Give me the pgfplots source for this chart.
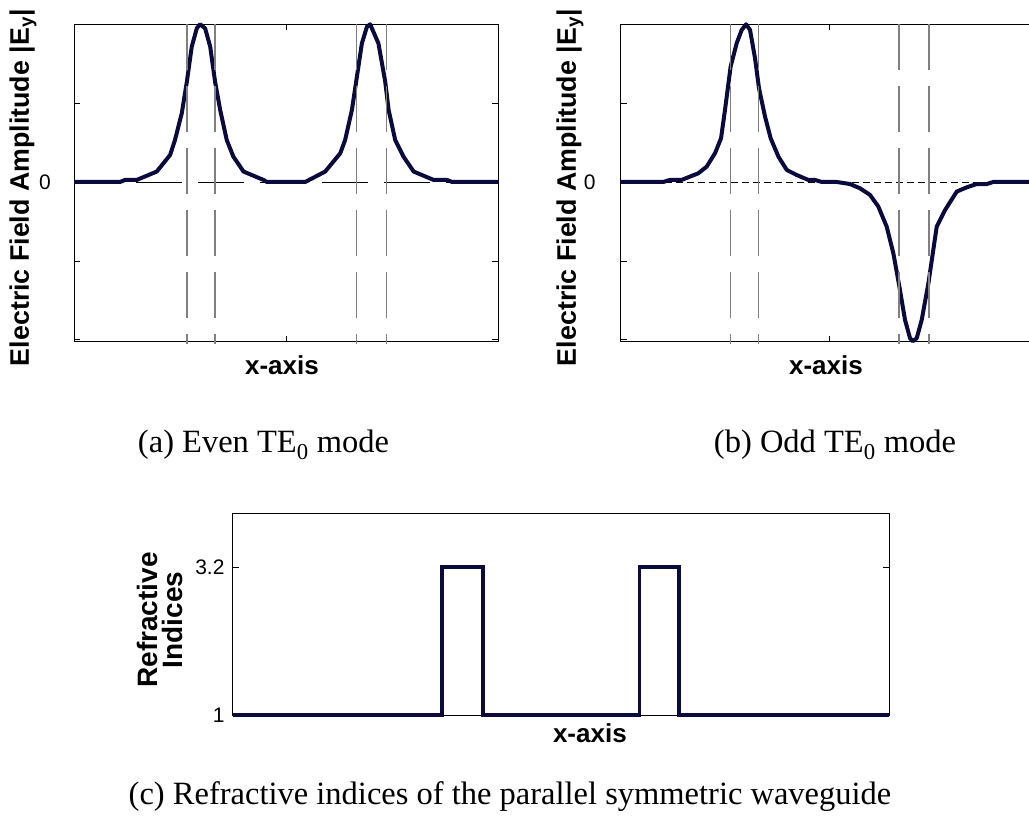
\documentclass[border=0pt]{standalone}
\usepackage{fontspec}
\setmainfont{Liberation Serif}
\setsansfont{Liberation Sans}
\usepackage{pgfplots}
\pgfplotsset{compat=1.18}

\definecolor{navyline}{RGB}{10,10,60}
\definecolor{guidegray}{RGB}{128,128,128}

\pgfplotsset{
  panel/.style={
    scale only axis, clip=false,
    axis line style={line width=0.8pt},
    major tick style={black, line width=0.6pt},
    major tick length=6pt,
    tick label style={font=\sffamily\fontsize{21}{25}\selectfont, inner sep=0pt},
    label style={font=\sffamily\bfseries\fontsize{26}{29}\selectfont},
    xlabel={x-axis},
  },
  mode/.style={
    panel,
    height=317.4pt,
    xmin=-1, xmax=1, ymin=-1.013, ymax=1,
    xtick={0}, xticklabels={},
    ytick={-1,-0.5,0,0.5,1}, yticklabels={,,0,,},
    ylabel={Electric Field Amplitude |E\textsubscript{y}|},
  },
  wave/.style={navyline, line width=4pt, line join=round},
  guide/.style={guidegray, line width=1.2pt, dash pattern=on 46pt off 16pt},
}

\begin{document}
\begin{tikzpicture}[x=1pt, y=1pt]
\useasboundingbox (0,0) rectangle (1029,818);

% (a) even mode
\begin{axis}[mode, at={(74pt,476.3pt)}, anchor=south west, width=424.3pt,
  yticklabel style={xshift=-23pt},
  xlabel style={at={(axis description cs:0.49,-0.073)}, anchor=center},
  ylabel style={at={(axis description cs:-0.12,0.485)}, anchor=center,
    font=\sffamily\bfseries\fontsize{26.8}{30}\selectfont}]
\addplot[black, line width=0.6pt, dash pattern=on 46pt off 16pt] coordinates {(-1,0) (1,0)};
\addplot[wave] coordinates {
  (-1.000,0) (-0.783,0) (-0.759,0.013) (-0.704,0.013) (-0.610,0.066)
  (-0.547,0.171) (-0.524,0.266) (-0.492,0.436) (-0.468,0.636) (-0.445,0.858)
  (-0.421,0.975) (-0.406,1.000) (-0.382,0.975) (-0.358,0.858) (-0.335,0.636)
  (-0.311,0.457) (-0.280,0.266) (-0.249,0.161) (-0.201,0.066) (-0.107,0.013)
  (-0.091,0) (0.090,0) (0.184,0.066) (0.255,0.182) (0.278,0.266)
  (0.310,0.457) (0.330,0.636) (0.357,0.879) (0.381,0.985) (0.396,1.000)
  (0.435,0.879) (0.467,0.636) (0.483,0.457) (0.514,0.266) (0.553,0.161)
  (0.601,0.066) (0.695,0.013) (0.758,0.013) (0.782,0) (1.000,0)
};
\addplot[guide] coordinates {(-0.467,1) (-0.467,-1.03)};
\addplot[guide] coordinates {(-0.335,1) (-0.335,-1.03)};
\addplot[guide] coordinates {(0.330,1) (0.330,-1.03)};
\addplot[guide] coordinates {(0.472,1) (0.472,-1.03)};
\end{axis}

% (b) odd mode
\begin{axis}[mode, at={(620.7pt,476.3pt)}, anchor=south west, width=417.2pt,
  yticklabel style={xshift=-25pt},
  xlabel style={at={(axis description cs:0.492,-0.073)}, anchor=center},
  ylabel style={at={(axis description cs:-0.1215,0.485)}, anchor=center,
    font=\sffamily\bfseries\fontsize{26.8}{30}\selectfont}]
\addplot[black, line width=0.6pt, dash pattern=on 7pt off 4pt] coordinates {(-1,0) (1,0)};
\addplot[wave] coordinates {
  (-1.000,0) (-0.796,0) (-0.764,0.013) (-0.708,0.013) (-0.628,0.055)
  (-0.588,0.097) (-0.548,0.182) (-0.519,0.277) (-0.500,0.457) (-0.473,0.732)
  (-0.444,0.880) (-0.420,0.964) (-0.399,1.000) (-0.380,0.964) (-0.356,0.784)
  (-0.337,0.594) (-0.308,0.414) (-0.281,0.277) (-0.244,0.161) (-0.204,0.076)
  (-0.156,0.044) (-0.101,0.013) (-0.069,0.013) (-0.036,0) (0.035,0)
  (0.099,-0.013) (0.147,-0.040) (0.195,-0.082) (0.235,-0.156) (0.275,-0.283)
  (0.307,-0.452) (0.336,-0.664) (0.363,-0.875) (0.387,-0.991) (0.400,-1.010)
  (0.419,-0.991) (0.443,-0.875) (0.475,-0.643) (0.515,-0.283) (0.555,-0.178)
  (0.611,-0.061) (0.659,-0.034) (0.707,-0.013) (0.755,-0.013) (0.786,0)
  (1.000,0)
};
\addplot[guide] coordinates {(-0.473,1) (-0.473,-1.03)};
\addplot[guide] coordinates {(-0.339,1) (-0.339,-1.03)};
\addplot[guide] coordinates {(0.334,1) (0.334,-1.03)};
\addplot[guide] coordinates {(0.478,1) (0.478,-1.03)};
\end{axis}

% (c) refractive index profile
\begin{axis}[panel, at={(232.7pt,103pt)}, anchor=south west,
  width=656.6pt, height=202pt,
  xmin=-1, xmax=1, ymin=1, ymax=4,
  xtick=\empty,
  ytick={1,3.2}, yticklabels={1,3.2},
  yticklabel style={xshift=-8pt},
  ylabel={Refractive\\Indices},
  xlabel style={at={(axis description cs:0.544,-0.089)}, anchor=center},
  ylabel style={at={(axis description cs:-0.1107,0.47)}, anchor=center, align=center,
    font=\sffamily\bfseries\fontsize{28}{25}\selectfont}]
\addplot[wave, line width=3.5pt, line join=miter] coordinates {
  (-1,1) (-0.362,1) (-0.362,3.2) (-0.237,3.2) (-0.237,1)
  (0.239,1) (0.239,3.2) (0.359,3.2) (0.359,1) (1,1)
};
\end{axis}

\node[font=\fontsize{32.5}{38}\selectfont, anchor=base] at (263.5,365) {(a) Even TE\textsubscript{0} mode};
\node[font=\fontsize{32.5}{38}\selectfont, anchor=base] at (835,365) {(b) Odd TE\textsubscript{0} mode};
\node[font=\fontsize{32.5}{38}\selectfont, anchor=base] at (510,13.5) {(c) Refractive indices of the parallel symmetric waveguide};
\end{tikzpicture}
\end{document}
